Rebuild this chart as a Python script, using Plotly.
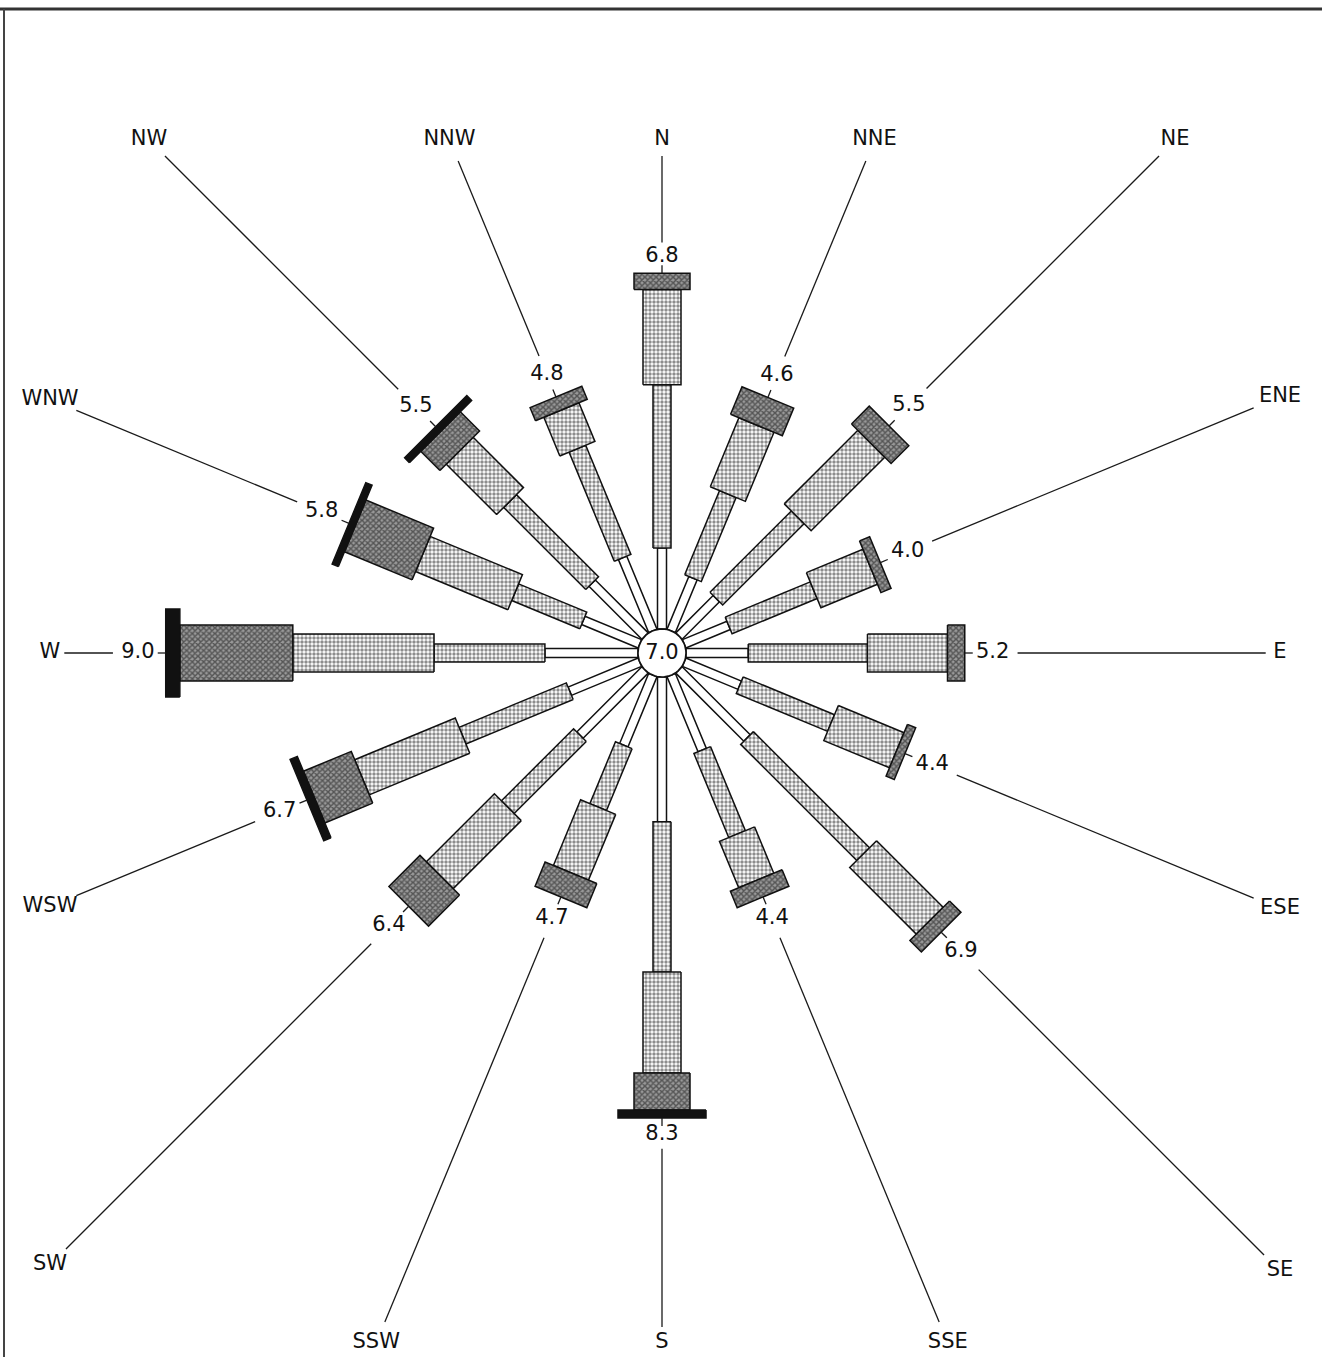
import math
import plotly.graph_objects as go

# ---- data (percent of observations) ----
directions = ["N", "NNE", "NE", "ENE", "E", "ESE", "SE", "SSE",
              "S", "SSW", "SW", "WSW", "W", "WNW", "NW", "NNW"]
bearings = [0, 22.5, 45, 67.5, 90, 112.5, 135, 157.5,
            180, 202.5, 225, 247.5, 270, 292.5, 315, 337.5]
totals = [6.8, 4.6, 5.5, 4.0, 5.2, 4.4, 6.9, 4.4,
          8.3, 4.7, 6.4, 6.7, 9.0, 5.8, 5.5, 4.8]
calm = 7.0

# speed classes, lightest (innermost stem) to strongest (outer black bar)
class1 = [1.55, 1.09, 1.01, 0.92, 1.19, 1.15, 1.84, 1.55,
          2.77, 1.45, 1.76, 1.45, 1.78, 1.17, 1.43, 1.51]
class2 = [3.12, 1.74, 2.20, 1.76, 2.28, 1.89, 3.14, 1.74,
          2.87, 1.28, 1.95, 2.22, 2.12, 1.41, 2.22, 2.26]
class3 = [1.82, 1.43, 1.99, 1.17, 1.53, 1.36, 1.80, 0.96,
          1.93, 1.36, 1.84, 2.08, 2.70, 1.91, 1.36, 0.80]
class4 = [0.31, 0.57, 0.48, 0.21, 0.33, 0.17, 0.31, 0.34,
          0.71, 0.50, 0.84, 0.99, 2.16, 1.40, 0.52, 0.27]
class5 = [0, 0, 0, 0, 0, 0, 0, 0,
          0.15, 0, 0, 0.15, 0.27, 0.13, 0.13, 0]

# ---- layout constants (pixels) ----
W, H = 1322, 1357
CX, CY = 662, 653
R0 = 24            # calm circle radius
PX_PER_PCT = 52.3
WIDTHS = [9, 18, 38, 56, 88]
FRAME = dict(left=-612, right=618, top=-513, bottom=690)
FONT = dict(family="DejaVu Sans", size=21, color="#111")

STYLES = [
    dict(fillcolor="white"),
    dict(fillpattern=dict(shape=".", size=4, solidity=0.55,
                          fgcolor="#1a1a1a", bgcolor="white")),
    dict(fillpattern=dict(shape=".", size=4, solidity=0.6,
                          fgcolor="#1a1a1a", bgcolor="white")),
    dict(fillpattern=dict(shape="x", size=4, solidity=0.6,
                          fgcolor="#111", bgcolor="#999999")),
    dict(fillcolor="#111"),
]


def unit(bearing):
    a = math.radians(bearing)
    return math.sin(a), -math.cos(a)


def point(bearing, r, side=0.0):
    ux, uy = unit(bearing)
    px, py = -uy, ux
    return CX + ux * r + px * side, CY + uy * r + py * side


def rect(bearing, r_a, r_b, width):
    h = width / 2
    pts = [point(bearing, r_a, -h), point(bearing, r_b, -h),
           point(bearing, r_b, h), point(bearing, r_a, h)]
    pts.append(pts[0])
    return [p[0] for p in pts], [p[1] for p in pts]


def frame_point(bearing):
    ux, uy = unit(bearing)
    ts = []
    if ux > 1e-9:
        ts.append(FRAME["right"] / ux)
    if ux < -1e-9:
        ts.append(FRAME["left"] / ux)
    if uy > 1e-9:
        ts.append(FRAME["bottom"] / uy)
    if uy < -1e-9:
        ts.append(FRAME["top"] / uy)
    return min(ts)


def text_extent(bearing, text):
    # half extent of a text box measured along the ray
    ux, uy = unit(bearing)
    half_w = len(text) * 0.3 * FONT["size"]
    half_h = 0.38 * FONT["size"]
    return abs(ux) * half_w + abs(uy) * half_h


fig = go.Figure()

classes = [class1, class2, class3, class4, class5]
line_x, line_y = [], []
val_x, val_y, val_t = [], [], []
dir_x, dir_y = [], []

for i, b in enumerate(bearings):
    r = R0
    for k, cls in enumerate(classes):
        v = cls[i]
        if v <= 0:
            continue
        r_next = r + v * PX_PER_PCT
        xs, ys = rect(b, r, r_next, WIDTHS[k])
        fig.add_trace(go.Scatter(
            x=xs, y=ys, mode="lines", fill="toself",
            line=dict(color="#111", width=1.5),
            hoverinfo="skip", showlegend=False, **STYLES[k],
        ))
        r = r_next

    label = f"{totals[i]:.1f}"
    ext = text_extent(b, label)
    r_label = r + 9 + ext
    # tick from bar end toward value label
    for p in (point(b, r), point(b, r + 8)):
        line_x.append(p[0]); line_y.append(p[1])
    line_x.append(None); line_y.append(None)
    lx, ly = point(b, r_label)
    val_x.append(lx); val_y.append(ly); val_t.append(label)

    # leader to direction name
    r_dir = frame_point(b)
    dx, dy = point(b, r_dir)
    dir_x.append(dx); dir_y.append(dy)
    d_ext = text_extent(b, directions[i])
    for p in (point(b, r_label + ext + 6), point(b, r_dir - d_ext - 8)):
        line_x.append(p[0]); line_y.append(p[1])
    line_x.append(None); line_y.append(None)

fig.add_trace(go.Scatter(
    x=line_x, y=line_y, mode="lines",
    line=dict(color="#1a1a1a", width=1.3),
    hoverinfo="skip", showlegend=False,
))

# calm circle
circ_x = [CX + R0 * math.cos(2 * math.pi * t / 60) for t in range(61)]
circ_y = [CY + R0 * math.sin(2 * math.pi * t / 60) for t in range(61)]
fig.add_trace(go.Scatter(
    x=circ_x, y=circ_y, mode="lines", fill="toself", fillcolor="white",
    line=dict(color="#111", width=1.6), hoverinfo="skip", showlegend=False,
))

fig.add_trace(go.Scatter(
    x=val_x + dir_x + [CX], y=val_y + dir_y + [CY + 1],
    mode="text", text=val_t + directions + [f"{calm:.1f}"],
    textposition="middle center", textfont=FONT,
    hoverinfo="skip", showlegend=False,
))

# scanned page frame (top and left edges)
fig.add_shape(type="line", x0=0, x1=W, y0=9, y1=9,
              line=dict(color="#333", width=3))
fig.add_shape(type="line", x0=4, x1=4, y0=9, y1=H,
              line=dict(color="#444", width=2))

fig.update_layout(
    width=W, height=H,
    margin=dict(l=0, r=0, t=0, b=0),
    plot_bgcolor="white", paper_bgcolor="white",
)
fig.update_xaxes(visible=False, range=[0, W])
fig.update_yaxes(visible=False, range=[H, 0])

fig.write_html(
    "out.html",
    config={"displayModeBar": False},
    post_script="document.body.style.margin='0';"
                "document.body.style.overflow='hidden';",
)
